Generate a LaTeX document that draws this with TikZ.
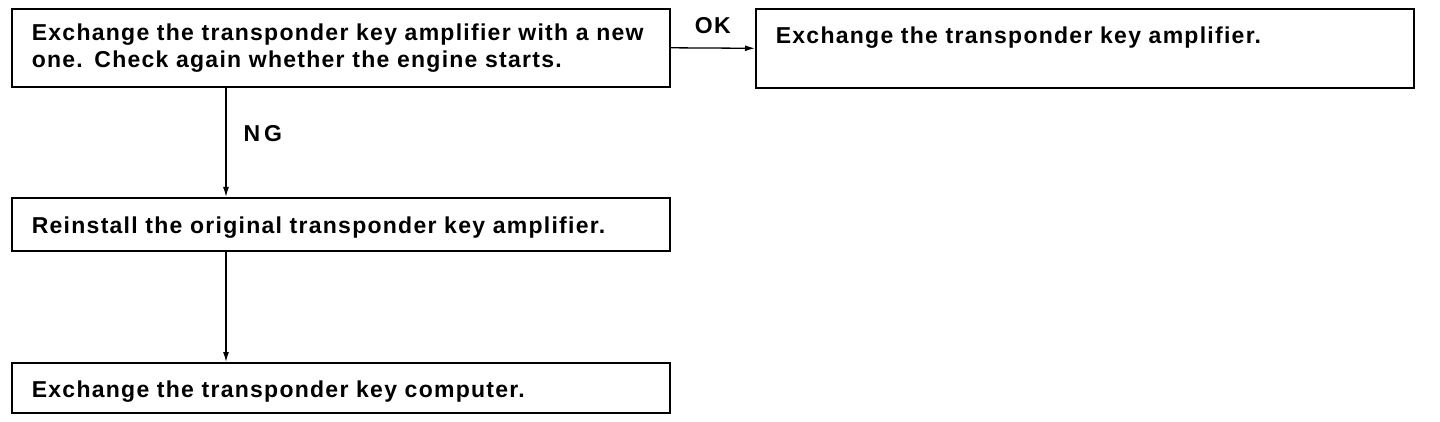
\documentclass[tikz,border=0pt]{standalone}
\usepackage{fontspec}
\setmainfont{Liberation Sans}[LetterSpace=5.5]
\usepackage{tikz}
\usetikzlibrary{arrows.meta}
\usetikzlibrary{shapes,positioning}
\tikzset{>={Latex[length=10pt,width=6pt]},
  stepbox/.style={draw,line width=1.6pt,anchor=north west,align=left,
    inner xsep=20pt,text width=618pt},
  oneline/.style={text height=19pt,text depth=0pt},
  flow/.style={->,line width=1.3pt}}

\begin{document}
\begin{tikzpicture}[x=1pt,y=-1pt,font=\fontsize{23}{27}\selectfont\bfseries]
        \useasboundingbox (0,0) rectangle (1440,422);
        \node[stepbox,minimum height=78pt] (newamp) at (11,8)
          {\mbox{Exchange the transponder key amplifier with a new}\\one.  Check again whether the engine starts.};
        \node[stepbox,minimum height=79pt] (keepamp) at (755,8)
          {Exchange the transponder key amplifier.\\\mbox{}};
        \node[stepbox,oneline,minimum height=53pt] (oldamp) at (11,197)
          {Reinstall the original transponder key amplifier.};
        \node[stepbox,oneline,minimum height=50pt] (computer) at (11,362)
          {Exchange the transponder key computer.};

        \draw[flow] (newamp.east) -- node[above=14pt,inner sep=0] (ok) {OK} (keepamp.west);
        \draw[flow] ([xshift=215pt]newamp.south west) --
          node[pos=.42,right=17pt,inner sep=0] (ng) {N\,G} ([xshift=215pt]oldamp.north west);
        \draw[flow] ([xshift=215pt]oldamp.south west) -- ([xshift=215pt]computer.north west);
      \end{tikzpicture}
\end{document}
